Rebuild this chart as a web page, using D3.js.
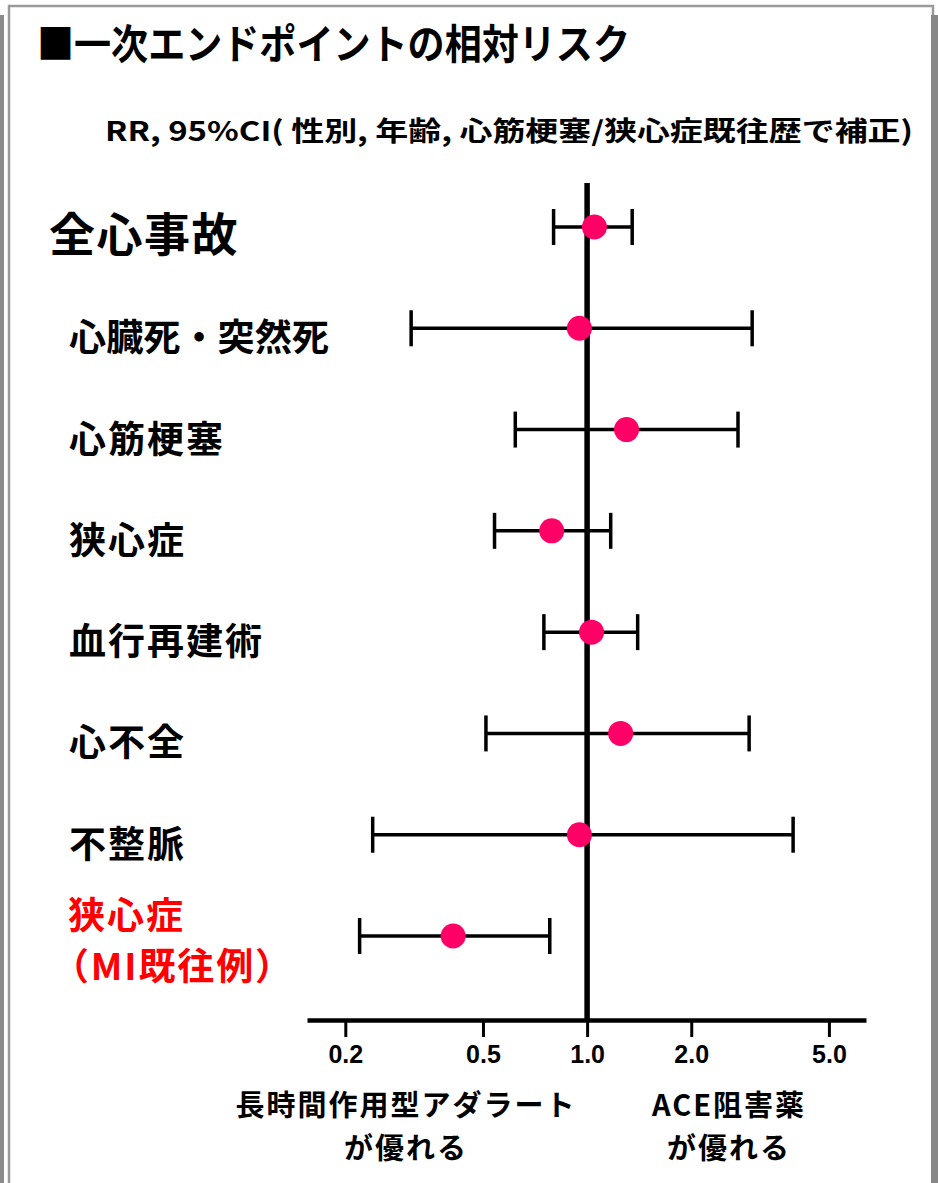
<!DOCTYPE html>
<html lang="ja">
<head>
<meta charset="utf-8">
<script src="https://cdn.jsdelivr.net/npm/d3@7/dist/d3.min.js"></script>
<style>
  html, body { margin: 0; padding: 0; background: #fff; }
  svg { display: block; }
  text { font-family: "Noto Sans CJK JP", "Noto Sans", sans-serif; font-weight: 700; }
</style>
</head>
<body>
<script>
// Endpoints (rows, top to bottom)
const categories = ["全心事故", "心臓死・突然死", "心筋梗塞", "狭心症", "血行再建術", "心不全", "不整脈", "狭心症（MI既往例）"];
// Relative risk and 95% CI
const rr    = [1.05, 0.95, 1.30, 0.79, 1.03, 1.25, 0.95, 0.41];
const lower = [0.80, 0.31, 0.62, 0.54, 0.75, 0.51, 0.24, 0.22];
const upper = [1.35, 3.00, 2.73, 1.17, 1.40, 2.94, 3.94, 0.78];
// Axis tick values
const tickValues = [0.2, 0.5, 1.0, 2.0, 5.0];

const W = 938, H = 1183;
const svg = d3.select("body").append("svg").attr("width", W).attr("height", H);

svg.append("rect").attr("width", W).attr("height", H).attr("fill", "#fff");

// Frame with shadow
svg.append("rect").attr("x", 0).attr("y", 15).attr("width", 4).attr("height", H - 15).attr("fill", "#8c8c8c");
svg.append("path").attr("d", `M9,${H} V6 H933 V15`).attr("fill", "none").attr("stroke", "#9a9a9a").attr("stroke-width", 2.5);
svg.append("rect").attr("x", 931).attr("y", 15).attr("width", 7).attr("height", H - 15).attr("fill", "#878787");

// Title and subtitle
svg.append("text").attr("x", 37).attr("y", 59).attr("font-size", 41)
  .attr("textLength", 593).attr("lengthAdjust", "spacingAndGlyphs")
  .text("■一次エンドポイントの相対リスク");
svg.append("text").attr("x", 105).attr("y", 141).attr("font-size", 27)
  .attr("textLength", 808).attr("lengthAdjust", "spacingAndGlyphs")
  .text("RR, 95%CI( 性別, 年齢, 心筋梗塞/狭心症既往歴で補正)");

// Scales
const x = d3.scaleLog().domain([0.155, 6.4]).range([307, 866]);
const y = d3.scalePoint().domain(categories).range([227, 936]);
const axisY = 1020;

// Reference line at RR = 1
svg.append("line")
  .attr("x1", x(1)).attr("x2", x(1)).attr("y1", 183).attr("y2", axisY)
  .attr("stroke", "#000").attr("stroke-width", 5.5);

// Axis
const axis = svg.append("g").attr("transform", `translate(0,${axisY})`)
  .call(d3.axisBottom(x).tickValues(tickValues).tickFormat(d3.format(".1f")).tickSize(17).tickSizeOuter(0).tickPadding(8));
axis.select(".domain").attr("stroke", "#000").attr("stroke-width", 4.5);
axis.selectAll(".tick line").attr("stroke", "#000").attr("stroke-width", 3);
axis.selectAll(".tick text")
  .style("font-family", "'Liberation Sans Narrow', 'Liberation Sans', sans-serif")
  .style("font-weight", 700).attr("font-size", 25).attr("fill", "#000");

const rows = categories.map((c, i) => ({ c, rr: rr[i], lo: lower[i], hi: upper[i] }));

// Confidence intervals
const ci = svg.append("g").attr("stroke", "#000").attr("stroke-width", 3.5);
rows.forEach(d => {
  const yy = y(d.c);
  ci.append("line").attr("x1", x(d.lo)).attr("x2", x(d.hi)).attr("y1", yy).attr("y2", yy);
  ci.append("line").attr("x1", x(d.lo)).attr("x2", x(d.lo)).attr("y1", yy - 18).attr("y2", yy + 18);
  ci.append("line").attr("x1", x(d.hi)).attr("x2", x(d.hi)).attr("y1", yy - 18).attr("y2", yy + 18);
});

// Point estimates
svg.append("g").selectAll("circle").data(rows).join("circle")
  .attr("cx", d => x(d.rr)).attr("cy", d => y(d.c)).attr("r", 12.5)
  .attr("fill", "#ff0066");

// Row labels
rows.forEach((d, i) => {
  const yy = y(d.c);
  if (i === 0) {
    svg.append("text").attr("x", 49).attr("y", yy + 24).attr("font-size", 46)
      .attr("letter-spacing", 1.5).text(d.c);
  } else if (i === rows.length - 1) {
    const parts = d.c.match(/^(.*?)(（.*）)$/);
    svg.append("text").attr("x", 68).attr("y", yy - 7).attr("font-size", 37)
      .attr("letter-spacing", 2).attr("fill", "#ff0000").text(parts[1]);
    svg.append("text").attr("x", 52).attr("y", yy + 44).attr("font-size", 37)
      .attr("fill", "#ff0000").attr("textLength", 240).attr("lengthAdjust", "spacing").text(parts[2]);
  } else if (d.c.includes("・")) {
    svg.append("text").attr("x", 69).attr("y", yy + 23).attr("font-size", 37)
      .attr("textLength", 260).attr("lengthAdjust", "spacingAndGlyphs").text(d.c);
  } else {
    svg.append("text").attr("x", 69).attr("y", yy + 23).attr("font-size", 37)
      .attr("letter-spacing", 2).text(d.c);
  }
});

// Direction labels under the axis
const dir = [
  { x: 406, lines: ["長時間作用型アダラート", "が優れる"] },
  { x: 729, lines: ["ACE阻害薬", "が優れる"] }
];
dir.forEach(d => {
  d.lines.forEach((t, j) => {
    svg.append("text").attr("x", d.x).attr("y", 1116 + j * 43).attr("text-anchor", "middle")
      .attr("font-size", 29).attr("letter-spacing", 2).text(t);
  });
});
</script>
</body>
</html>
